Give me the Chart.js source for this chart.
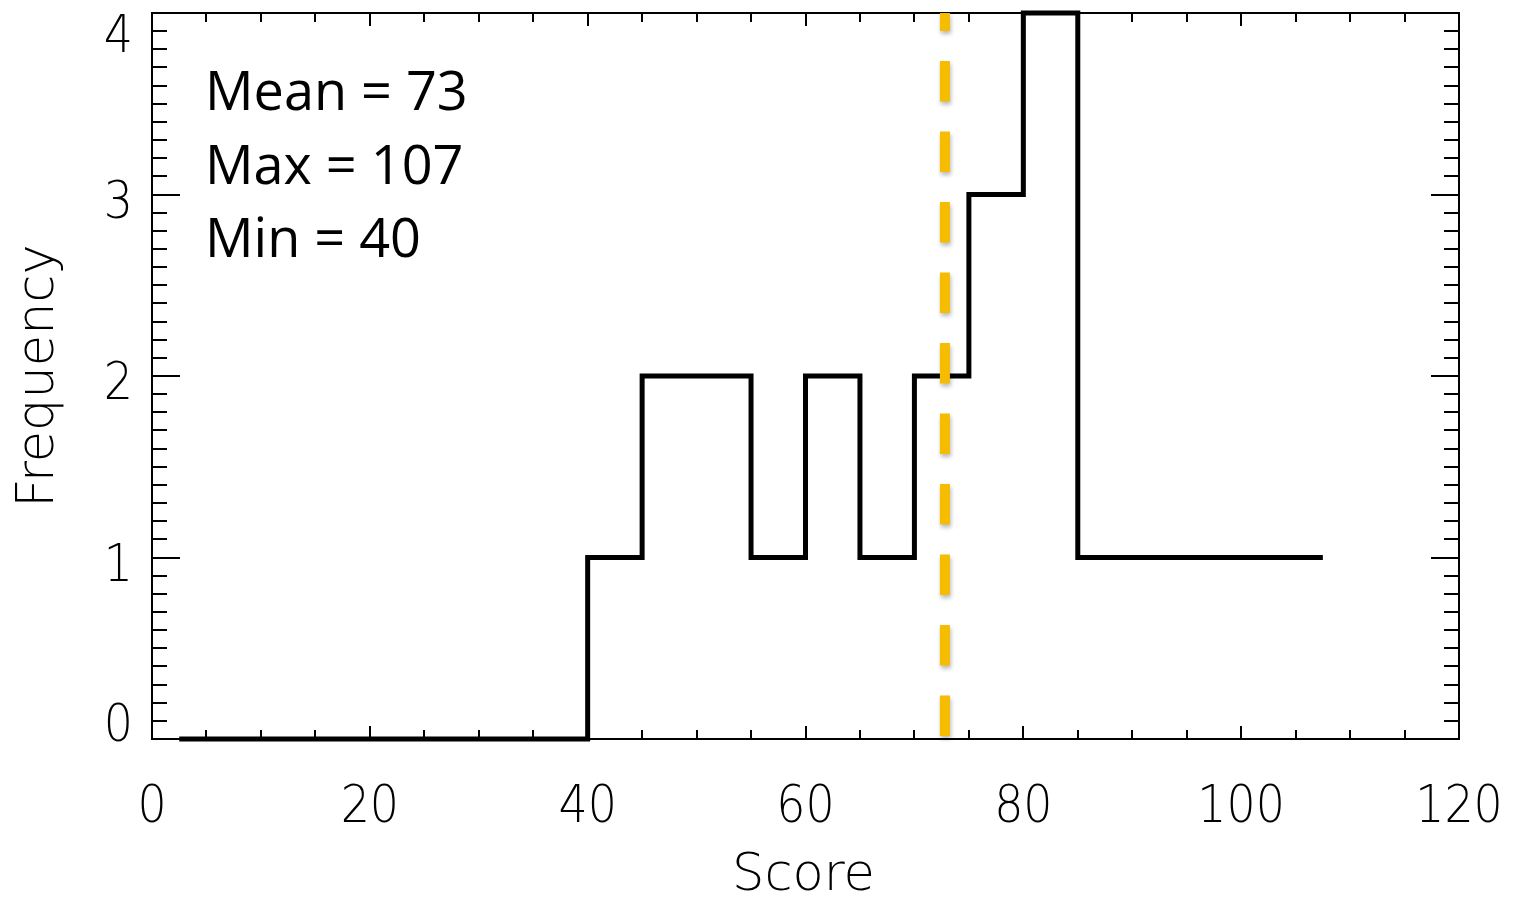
<!DOCTYPE html>
<html>
<head>
<meta charset="utf-8">
<script src="https://cdn.jsdelivr.net/npm/chart.js@4.4.1/dist/chart.umd.min.js"></script>
<style>
  html, body { margin: 0; padding: 0; background: #ffffff; }
  #wrap { width: 1519px; height: 899px; position: relative; }
</style>
</head>
<body>
<div id="wrap"><canvas id="c"></canvas></div>
<script>
// ---- data ----
const binCenters = [2.5, 7.5, 12.5, 17.5, 22.5, 27.5, 32.5, 37.5, 42.5, 47.5, 52.5,
                    57.5, 62.5, 67.5, 72.5, 77.5, 82.5, 87.5, 92.5, 97.5, 102.5, 107.5];
const counts     = [0, 0, 0, 0, 0, 0, 0, 0, 1, 2, 2,
                    1, 2, 1, 2, 3, 4, 1, 1, 1, 1, 1];
const meanValue = 72.8;
const statLines = ['Mean = 73', 'Max = 107', 'Min = 40'];
const xTickValues = [0, 20, 40, 60, 80, 100, 120];
const xTickLabels = ['0', '20', '40', '60', '80', '100', '120'];
const yTickValues = [0, 1, 2, 3, 4];
const yTickLabels = ['0', '1', '2', '3', '4'];
const xTitle = 'Score';
const yTitle = 'Frequency';

const histData = binCenters.map((x, i) => ({ x: x, y: counts[i] }));
const meanData = [{ x: meanValue, y: 4 }, { x: meanValue, y: 0 }];

const TICK_FONT = "200 51px 'DejaVu Sans'";

const idlAxes = {
  id: 'idlAxes',
  beforeDatasetsDraw(chart) {
    const ctx = chart.ctx;
    const a = chart.chartArea;
    const xs = chart.scales.x, ys = chart.scales.y;
    ctx.save();
    ctx.strokeStyle = '#000';
    ctx.lineWidth = 2;
    ctx.lineCap = 'butt';
    ctx.strokeRect(a.left, a.top, a.right - a.left, a.bottom - a.top);
    ctx.beginPath();
    // x ticks (bottom and top, pointing inward)
    for (let v = xs.min; v <= xs.max + 1e-9; v += 5) {
      const px = Math.round(xs.getPixelForValue(v));
      const major = xTickValues.includes(v);
      const len = major ? 13 : 9;
      ctx.moveTo(px, a.bottom); ctx.lineTo(px, a.bottom - len);
      ctx.moveTo(px, a.top); ctx.lineTo(px, a.top + len);
    }
    // y ticks (left and right, pointing inward)
    for (let k = 0; k <= 40; k++) {
      const v = k / 10;
      const py = Math.round(ys.getPixelForValue(v));
      const major = (k % 10 === 0);
      const len = major ? 28 : 15;
      ctx.moveTo(a.left, py); ctx.lineTo(a.left + len, py);
      ctx.moveTo(a.right, py); ctx.lineTo(a.right - len, py);
    }
    ctx.stroke();

    // tick labels
    ctx.fillStyle = '#000';
    ctx.font = TICK_FONT;
    ctx.textBaseline = 'alphabetic';
    xTickValues.forEach((v, i) => {
      const px = xs.getPixelForValue(v);
      ctx.save();
      ctx.translate(px, 822);
      ctx.scale(0.9, 1);
      ctx.textAlign = 'center';
      ctx.fillText(xTickLabels[i], 0, 0);
      ctx.restore();
    });
    yTickValues.forEach((v, i) => {
      const py = ys.getPixelForValue(v);
      let base = py + 23;
      base = Math.max(base, a.top + 39);
      base = Math.min(base, a.bottom + 2);
      ctx.save();
      ctx.translate(133, base);
      ctx.scale(0.9, 1);
      ctx.textAlign = 'right';
      ctx.fillText(yTickLabels[i], 0, 0);
      ctx.restore();
    });

    // axis titles
    ctx.textAlign = 'center';
    ctx.fillText(xTitle, (a.left + a.right) / 2 - 2, 890);
    ctx.save();
    ctx.translate(53, (a.top + a.bottom) / 2);
    ctx.rotate(-Math.PI / 2);
    ctx.fillText(yTitle, 0, 0);
    ctx.restore();
    ctx.restore();
  },
  beforeDatasetDraw(chart, args) {
    if (args.index === 1) {
      const ctx = chart.ctx;
      ctx.save();
      ctx.shadowColor = 'rgba(0,0,0,0.28)';
      ctx.shadowBlur = 4;
      ctx.shadowOffsetX = 1;
      ctx.shadowOffsetY = 3;
    }
  },
  afterDatasetDraw(chart, args) {
    if (args.index === 1) chart.ctx.restore();
  },
  afterDraw(chart) {
    const ctx = chart.ctx;
    ctx.save();
    ctx.fillStyle = '#000';
    ctx.font = "54px 'Open Sans'";
    ctx.textAlign = 'left';
    ctx.textBaseline = 'alphabetic';
    statLines.forEach((t, i) => ctx.fillText(t, 205, 110 + i * 73.5));
    ctx.restore();
  }
};

new Chart(document.getElementById('c'), {
  type: 'line',
  data: {
    datasets: [
      {
        label: 'Histogram',
        data: histData,
        stepped: 'middle',
        borderColor: '#000000',
        borderWidth: 5,
        borderJoinStyle: 'miter',
        borderCapStyle: 'butt',
        pointRadius: 0,
        fill: false,
        clip: false,
        order: 2
      },
      {
        label: 'Mean',
        data: meanData,
        borderColor: '#F5BC00',
        borderWidth: 10,
        borderDash: [40.5, 30],
        borderDashOffset: 22.5,
        borderCapStyle: 'butt',
        pointRadius: 0,
        fill: false,
        clip: false,
        order: 1
      }
    ]
  },
  options: {
    responsive: true,
    maintainAspectRatio: false,
    animation: false,
    layout: { padding: { left: 152, right: 60, top: 13, bottom: 160 } },
    plugins: { legend: { display: false }, tooltip: { enabled: false } },
    scales: {
      x: { type: 'linear', min: 0, max: 120, display: false },
      y: { type: 'linear', min: 0, max: 4, display: false }
    }
  },
  plugins: [idlAxes]
});
</script>
</body>
</html>
